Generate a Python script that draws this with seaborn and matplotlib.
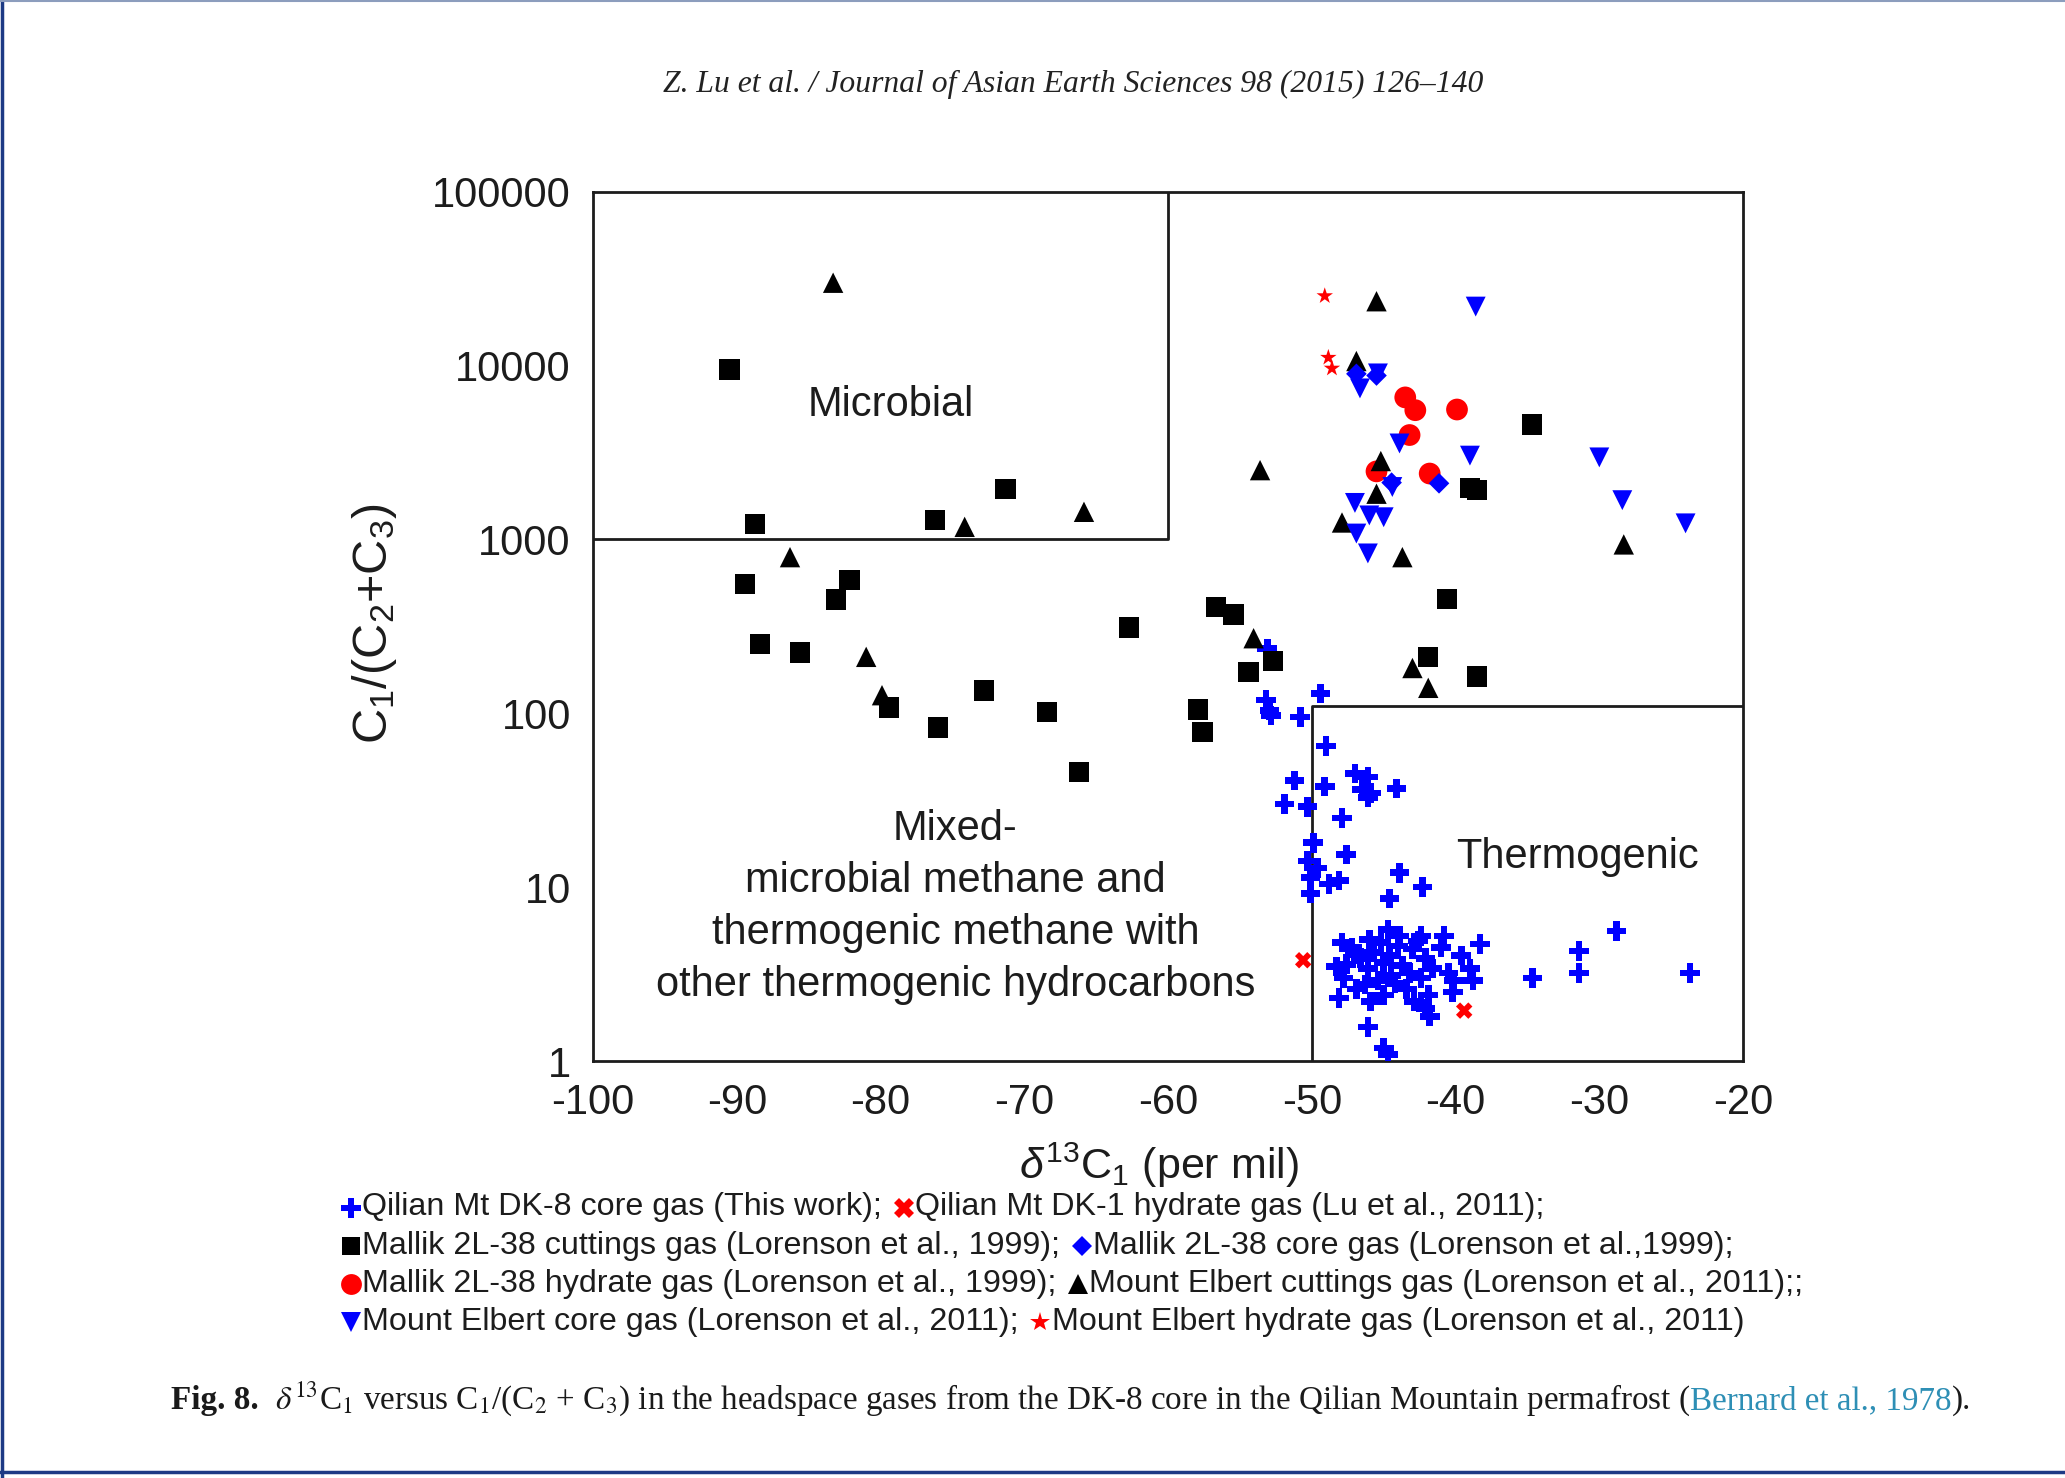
import matplotlib
matplotlib.use("Agg")
import matplotlib.pyplot as plt
import seaborn as sns
import pandas as pd
from matplotlib.lines import Line2D
from matplotlib.ticker import NullLocator
from matplotlib.offsetbox import TextArea, DrawingArea, HPacker, VPacker, AnchoredOffsetbox

# ---------------------------------------------------------------------------
# Data: delta13C1 (per mil) and C1/(C2+C3) for each gas group
# ---------------------------------------------------------------------------
dk8_core_d13c = [
    -53.1, -53.2, -52.95, -52.85, -50.8, -49.4,
    -49.0, -51.2, -49.1, -47.0, -46.1, -46.5, -46.1, -45.9, -44.1, -51.9, -50.3,
    -47.9, -49.9, -47.6, -50.3, -49.6, -50.1, -48.8, -48.1, -50.1, -43.9, -42.3, -44.6,
    -47.9, -47.0, -47.6, -47.8, -48.1, -46.1, -46.3, -45.9, -45.7, -45.2, -44.7, -44.6,
    -44.5, -45.0, -43.9, -43.7, -43.4, -43.0, -42.4, -42.1, -42.4, -41.9, -42.1, -41.8,
    -41.6, -40.8, -40.1, -39.6, -39.0, -38.8, -38.3, -46.1, -45.0, -44.7,
    -47.2, -46.6, -45.0, -44.0, -43.2, -46.9, -45.4, -42.9, -41.0, -40.5, -48.3, -46.0,
    -44.2, -42.6, -40.2,
    -34.65, -31.4, -31.4, -28.8, -23.7,
]
dk8_core_ratio = [
    235, 119, 104, 97, 95, 130,
    65, 41, 38, 45, 43, 36.5, 32.7, 34.8, 37, 30, 29,
    25, 18, 15.4, 14.1, 12.9, 11.4, 10.4, 10.9, 9.2, 12.1, 10.0, 8.6,
    4.8, 4.1, 3.6, 3.0, 2.3, 3.4, 2.75, 2.2, 4.2, 4.8, 5.7, 4.05,
    3.1, 2.4, 5.25, 3.55, 2.6, 4.4, 5.25, 3.9, 3.0, 2.4, 2.0, 1.8,
    3.4, 5.25, 2.9, 4.05, 3.4, 2.9, 4.7, 1.57, 1.19, 1.09,
    4.5, 3.9, 3.7, 4.6, 3.2, 2.6, 2.9, 2.2, 4.5, 3.2, 3.5, 5.0,
    2.8, 4.9, 2.5,
    3.0, 4.3, 3.2, 5.6, 3.2,
]

dk1_hydrate_d13c = [-50.6, -39.4]
dk1_hydrate_ratio = [3.8, 1.95]

mallik_cuttings_d13c = [
    -90.5, -88.75, -76.2, -71.3, -89.45, -82.15, -83.1, -88.4, -85.6, -79.4, -76.0,
    -72.8, -68.4, -66.2, -62.7, -56.65, -55.45, -54.4, -52.7, -57.9, -57.6,
    -34.7, -39.0, -38.5, -40.6, -41.9, -38.5,
]
mallik_cuttings_ratio = [
    9500, 1230, 1290, 1940, 555, 585, 452, 251, 224, 108, 83,
    135, 102, 46, 312, 410, 370, 172, 200, 105, 78,
    4570, 1970, 1920, 455, 211, 163,
]

mallik_core_d13c = [-46.9, -45.5, -44.45, -41.15]
mallik_core_ratio = [8950, 8750, 2120, 2100]

mallik_hydrate_d13c = [-43.5, -42.8, -39.9, -43.2, -45.5, -41.8]
mallik_hydrate_ratio = [6550, 5530, 5580, 3980, 2460, 2390]

elbert_cuttings_d13c = [
    -83.3, -86.3, -81.0, -79.9, -74.15, -65.85, -53.6, -54.05, -45.5, -46.9,
    -45.2, -45.5, -47.9, -43.7, -28.3, -43.0, -41.9,
]
elbert_cuttings_ratio = [
    29900, 790, 211, 127, 1180, 1440, 2500, 270, 23400, 10600,
    2820, 1830, 1250, 790, 935, 182, 140,
]

elbert_core_d13c = [
    -38.6, -46.65, -45.4, -43.9, -39.0, -30.0, -28.4, -24.0, -47.0, -46.0, -45.0,
    -46.9, -46.1, -44.4,
]
elbert_core_ratio = [
    21800, 7380, 9000, 3560, 3030, 2960, 1680, 1236, 1620, 1373, 1340,
    1080, 830, 2000,
]

elbert_hydrate_d13c = [-49.1, -48.85, -48.6]
elbert_hydrate_ratio = [25100, 11100, 9620]

x_ticks = [-100, -90, -80, -70, -60, -50, -40, -30, -20]
x_tick_labels = ["-100", "-90", "-80", "-70", "-60", "-50", "-40", "-30", "-20"]
y_ticks = [1, 10, 100, 1000, 10000, 100000]
y_tick_labels = ["1", "10", "100", "1000", "10000", "100000"]

# Bernard diagram field boundaries
microbial_field = {"x": [-100, -60, -60], "y": [1000, 1000, 100000]}
thermogenic_field = {"x": [-50, -50, -20], "y": [1, 110, 110]}

legend_rows = [
    [("dk8", "Qilian Mt DK-8 core gas (This work); "),
     ("dk1", "Qilian Mt DK-1 hydrate gas (Lu et al., 2011);")],
    [("mallik_cut", "Mallik 2L-38 cuttings gas (Lorenson et al., 1999); "),
     ("mallik_core", "Mallik 2L-38 core gas (Lorenson et al.,1999);")],
    [("mallik_hyd", "Mallik 2L-38 hydrate gas (Lorenson et al., 1999); "),
     ("elbert_cut", "Mount Elbert cuttings gas (Lorenson et al., 2011);;")],
    [("elbert_core", "Mount Elbert core gas (Lorenson et al., 2011); "),
     ("elbert_hyd", "Mount Elbert hydrate gas (Lorenson et al., 2011)")],
]

# ---------------------------------------------------------------------------
# Styling
# ---------------------------------------------------------------------------
sns.set_style("white")
plt.rcParams["font.family"] = ["Liberation Sans", "DejaVu Sans"]
plt.rcParams["mathtext.fontset"] = "custom"
plt.rcParams["mathtext.rm"] = "Liberation Sans"
plt.rcParams["mathtext.it"] = "Liberation Sans:italic"
plt.rcParams["mathtext.bf"] = "Liberation Sans:bold"

BLUE = "#0000ff"
RED = "#ff0000"
BLACK = "#000000"
INK = "#1c1c1c"

series = {
    "dk8": (dk8_core_d13c, dk8_core_ratio),
    "dk1": (dk1_hydrate_d13c, dk1_hydrate_ratio),
    "mallik_cut": (mallik_cuttings_d13c, mallik_cuttings_ratio),
    "mallik_hyd": (mallik_hydrate_d13c, mallik_hydrate_ratio),
    "elbert_cut": (elbert_cuttings_d13c, elbert_cuttings_ratio),
    "elbert_core": (elbert_core_d13c, elbert_core_ratio),
    "mallik_core": (mallik_core_d13c, mallik_core_ratio),
    "elbert_hyd": (elbert_hydrate_d13c, elbert_hydrate_ratio),
}
style = {
    "dk8": dict(marker="P", color=BLUE, s=200, leg=15),
    "dk1": dict(marker="X", color=RED, s=140, leg=14),
    "mallik_cut": dict(marker="s", color=BLACK, s=215, leg=13),
    "mallik_core": dict(marker="D", color=BLUE, s=110, leg=10),
    "mallik_hyd": dict(marker="o", color=RED, s=245, leg=15),
    "elbert_cut": dict(marker="^", color=BLACK, s=215, leg=14),
    "elbert_core": dict(marker="v", color=BLUE, s=205, leg=14),
    "elbert_hyd": dict(marker="*", color=RED, s=155, leg=15),
}

fig = plt.figure(figsize=(20.65, 14.78), dpi=100)
fig.patch.set_facecolor("white")
ax = fig.add_axes([0.2872, 0.2821, 0.5569, 0.5883])
ax.set_yscale("log")

for key, (xs, ys) in series.items():
    st = style[key]
    df = pd.DataFrame({"d13c": xs, "ratio": ys})
    sns.scatterplot(data=df, x="d13c", y="ratio", ax=ax, marker=st["marker"],
                    color=st["color"], s=st["s"], linewidth=0, edgecolor="none",
                    legend=False, zorder=3)

# field boundaries
for field in (microbial_field, thermogenic_field):
    ax.plot(field["x"], field["y"], color=INK, lw=2.0, zorder=2, solid_capstyle="butt")

ax.set_xlim(-100, -20)
ax.set_ylim(1, 100000)
ax.set_xticks(x_ticks)
ax.set_xticklabels(x_tick_labels)
ax.set_yticks(y_ticks)
ax.set_yticklabels(y_tick_labels)
ax.yaxis.set_minor_locator(NullLocator())
ax.xaxis.set_minor_locator(NullLocator())
ax.tick_params(axis="both", direction="in", length=13, width=1.4, colors=INK,
               labelsize=30, pad=16, labelcolor=INK)
ax.tick_params(top=False, right=False)
for sp in ax.spines.values():
    sp.set_linewidth(2.0)
    sp.set_color(INK)
ax.grid(False)

ax.set_xlabel(r"$\delta^{13}$C$_1$ (per mil)", fontsize=31, color=INK)
ax.xaxis.label.set_verticalalignment("center")
ax.xaxis.set_label_coords(0.492, -0.12)
ax.set_ylabel(r"C$_1$/(C$_2$+C$_3$)", fontsize=35, color=INK)
ax.yaxis.label.set_verticalalignment("center")
ax.yaxis.set_label_coords(-0.19, 0.503)

ax.text(-79.3, 5950, "Microbial", fontsize=30, color=INK, ha="center", va="center")
ax.text(-31.5, 14.9, "Thermogenic", fontsize=30, color=INK, ha="center", va="center")
ax.text(-74.8, 7.7,
        "Mixed-\nmicrobial methane and\nthermogenic methane with\nother thermogenic hydrocarbons",
        fontsize=30, color=INK, ha="center", va="center", linespacing=1.38)

# ---------------------------------------------------------------------------
# Legend written as running text below the axes
# ---------------------------------------------------------------------------
def marker_box(key):
    st = style[key]
    da = DrawingArea(17, 16, 0, 0)
    da.add_artist(Line2D([9], [8], marker=st["marker"], color=st["color"],
                         markersize=st["leg"], markeredgewidth=0, linestyle="none"))
    return da

rows = []
for row in legend_rows:
    items = []
    for key, label in row:
        items.append(marker_box(key))
        items.append(TextArea(label, textprops=dict(fontsize=23.2, color=INK)))
    rows.append(HPacker(children=items, align="center", pad=0, sep=0))
legend_box = VPacker(children=rows, align="left", pad=0, sep=5.8)
anchored = AnchoredOffsetbox(loc="upper left", child=legend_box, frameon=False,
                             pad=0, borderpad=0,
                             bbox_to_anchor=(0.164, 1 - 1192.5 / 1478),
                             bbox_transform=fig.transFigure)
fig.add_artist(anchored)

# ---------------------------------------------------------------------------
# Running header and caption
# ---------------------------------------------------------------------------
fig.text(0.5197, 1 - 84 / 1478,
         "Z. Lu et al. / Journal of Asian Earth Sciences 98 (2015) 126\u2013140",
         family=["Liberation Serif", "DejaVu Serif"], style="italic",
         fontsize=22.8, color="#222222", ha="center", va="center")

cap_props = dict(family=["Liberation Serif", "DejaVu Serif"], fontsize=23.9,
                 color="#1a1a1a", math_fontfamily="stix")
caption = HPacker(children=[
    TextArea("Fig. 8.", textprops=dict(cap_props, weight="bold")),
    TextArea(r"  $\delta^{13}$C$_1$ versus C$_1$/(C$_2$ + C$_3$) in the headspace gases "
             "from the DK-8 core in the Qilian Mountain permafrost (",
             textprops=cap_props),
    TextArea("Bernard et al., 1978", textprops=dict(cap_props, color="#2e8fb5")),
    TextArea(").", textprops=cap_props),
], align="baseline", pad=0, sep=0)
fig.add_artist(AnchoredOffsetbox(loc="center left", child=caption, frameon=False,
                                 pad=0, borderpad=0,
                                 bbox_to_anchor=(171 / 2065, 1 - 1399 / 1478),
                                 bbox_transform=fig.transFigure))

# page frame lines
fig.add_artist(Line2D([0.0008, 0.0008], [0, 1], transform=fig.transFigure,
                      color="#1d3a85", lw=2.5))
fig.add_artist(Line2D([0, 1], [0.9995, 0.9995], transform=fig.transFigure,
                      color="#8c9dbd", lw=1.5))
fig.add_artist(Line2D([0, 1], [1 - 1472 / 1478, 1 - 1472 / 1478],
                      transform=fig.transFigure, color="#1d3a85", lw=2.5))

fig.savefig("out.png", dpi=100)
